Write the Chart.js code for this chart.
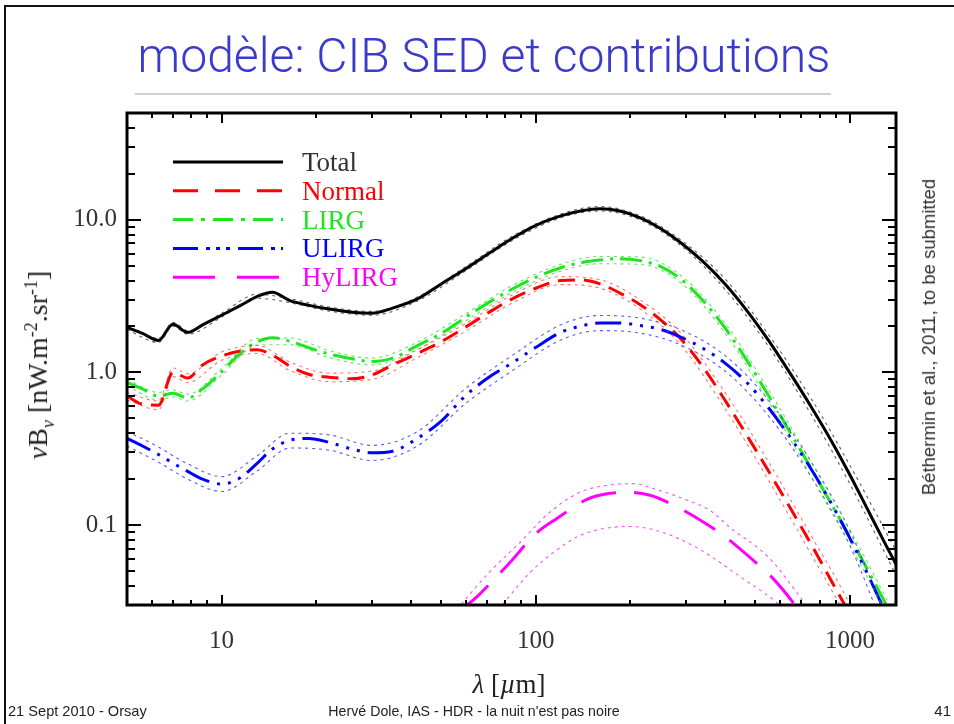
<!DOCTYPE html>
<html>
<head>
<meta charset="utf-8">
<script src="https://cdn.jsdelivr.net/npm/chart.js@4.4.1/dist/chart.umd.min.js"></script>
<style>
  html, body { margin:0; padding:0; background:#fff; }
  #wrap { position:relative; width:954px; height:724px; overflow:hidden; background:#fff; }
  #c { position:absolute; left:0; top:0; }
  .abs { position:absolute; white-space:nowrap; }
  .sans { font-family:"Liberation Sans", Arial, sans-serif; }
  .serif { font-family:"Liberation Serif", "Times New Roman", serif; }
</style>
</head>
<body>
<div id="wrap">
  <div class="abs" style="left:4px;top:5px;width:950px;height:1.5px;background:#111;"></div>
  <div class="abs" style="left:4px;top:5px;width:1.5px;height:719px;background:#111;"></div>
  <div id="title" class="abs" style="left:484px;top:56px;transform:translate(-50%,-50%);font-family:Roboto,'Liberation Sans',sans-serif;font-weight:300;font-size:48px;line-height:60px;color:#3a3acc;">modèle: CIB SED et contributions</div>
  <div class="abs" style="left:135px;top:93px;width:696px;height:2px;background:#d2d2d2;"></div>
  <canvas id="c" width="954" height="724"></canvas>
  <div class="abs serif" style="left:40px;top:365px;transform:translate(-50%,-50%) rotate(-90deg);font-size:28px;color:#222;"><i>ν</i>B<sub style="font-size:18px;"><i>ν</i></sub> [nW.m<sup style="font-size:18px;">-2</sup>.sr<sup style="font-size:18px;">-1</sup>]</div>
  <div class="abs serif" style="left:509px;top:684px;transform:translate(-50%,-50%);font-size:27px;color:#222;"><i>λ</i> [<i>µ</i>m]</div>
  <div class="abs sans" style="left:929px;top:337px;transform:translate(-50%,-50%) rotate(-90deg);font-size:18.5px;color:#333;">Béthermin et al., 2011, to be submitted</div>
  <div class="abs sans" style="left:8px;top:702px;font-size:14.6px;line-height:18px;color:#222;">21 Sept 2010 - Orsay</div>
  <div class="abs sans" style="left:474px;top:702px;transform:translateX(-50%);font-size:14.2px;line-height:18px;color:#222;">Hervé Dole, IAS - HDR - la nuit n'est pas noire</div>
  <div class="abs sans" style="right:3px;top:702px;font-size:15px;line-height:18px;color:#222;">41</div>
</div>
<script>
// ---------- DATA ----------
const lambdaGrid = [5, 5.6, 6.3, 7, 7.8, 8.7, 10, 11.5, 13, 14.5, 16.5, 19, 22, 26, 30, 35, 42, 50, 60, 72, 85, 100, 120, 140, 160, 185, 215, 250, 290, 340, 400, 470, 550, 650, 760, 880, 1000, 1150, 1300, 1400];
const totalSED  = [1.97, 1.80, 1.62, 2.07, 1.83, 2.05, 2.37, 2.75, 3.15, 3.35, 2.95, 2.75, 2.6, 2.48, 2.44, 2.64, 3.03, 3.8, 4.8, 6.15, 7.65, 9.2, 10.6, 11.45, 11.8, 11.4, 10.3, 8.73, 7.04, 5.33, 3.79, 2.53, 1.62, 0.96, 0.574, 0.344, 0.212, 0.121, 0.074, 0.0555];
const normalSED = [0.70, 0.62, 0.61, 1.0, 0.92, 1.12, 1.28, 1.38, 1.41, 1.30, 1.1, 0.97, 0.93, 0.91, 0.96, 1.12, 1.33, 1.59, 1.99, 2.52, 3.07, 3.56, 4.0, 4.03, 3.8, 3.31, 2.78, 2.2, 1.65, 1.09, 0.657, 0.386, 0.226, 0.126, 0.072, 0.0417, 0.026];
const lirgSED   = [0.86, 0.78, 0.70, 0.73, 0.68, 0.78, 1.01, 1.34, 1.59, 1.69, 1.6, 1.45, 1.32, 1.23, 1.18, 1.24, 1.5, 1.8, 2.31, 2.93, 3.56, 4.2, 4.85, 5.25, 5.45, 5.56, 5.4, 4.93, 4.07, 2.96, 1.955, 1.195, 0.706, 0.393, 0.226, 0.133, 0.083, 0.0488, 0.0304, 0.0228];
const ulirgSED  = [0.37, 0.33, 0.29, 0.255, 0.225, 0.20, 0.186, 0.205, 0.255, 0.315, 0.36, 0.37, 0.348, 0.315, 0.298, 0.305, 0.37, 0.48, 0.71, 0.95, 1.17, 1.46, 1.83, 2.02, 2.11, 2.11, 2.03, 1.91, 1.70, 1.44, 1.15, 0.856, 0.587, 0.367, 0.2245, 0.134, 0.0816, 0.0454, 0.0265];

const bandGrid   = [5, 6.3, 7, 7.8, 10, 13, 16.5, 22, 30, 42, 60, 85, 120, 160, 215, 290, 400, 550, 760, 1000, 1400];
const totalUpper = [2.03, 1.67, 2.13, 1.88, 2.44, 3.25, 3.04, 2.68, 2.51, 3.12, 4.95, 7.9, 10.9, 12.2, 10.6, 7.35, 4.1, 1.77, 0.65, 0.245, 0.068];
const totalLower = [1.91, 1.57, 2.01, 1.78, 2.3, 3.06, 2.86, 2.52, 2.37, 2.94, 4.65, 7.4, 10.3, 11.4, 9.95, 6.75, 3.5, 1.48, 0.51, 0.185, 0.047];
const normalUpper = [0.74, 0.65, 1.07, 0.98, 1.36, 1.5, 1.17, 0.99, 1.02, 1.41, 2.1, 3.26, 4.24, 4.05, 2.98, 1.8, 0.74, 0.26, 0.082, 0.03, 0.006];
const normalLower = [0.66, 0.57, 0.94, 0.86, 1.2, 1.33, 1.03, 0.87, 0.9, 1.25, 1.87, 2.88, 3.76, 3.56, 2.6, 1.5, 0.58, 0.197, 0.062, 0.022, 0.004];
const lirgUpper = [0.9, 0.74, 0.77, 0.72, 1.06, 1.67, 1.68, 1.39, 1.24, 1.58, 2.43, 3.75, 5.1, 5.75, 5.7, 4.3, 2.1, 0.77, 0.25, 0.093, 0.025];
const lirgLower = [0.82, 0.66, 0.69, 0.65, 0.96, 1.51, 1.52, 1.25, 1.12, 1.42, 2.19, 3.38, 4.6, 5.15, 5.1, 3.85, 1.81, 0.645, 0.2, 0.074, 0.02];
const ulirgUpper = [0.41, 0.325, 0.285, 0.252, 0.208, 0.285, 0.4, 0.39, 0.333, 0.41, 0.79, 1.31, 2.05, 2.36, 2.27, 1.9, 1.29, 0.66, 0.25, 0.091, 0.017];
const ulirgLower = [0.33, 0.258, 0.227, 0.2, 0.166, 0.227, 0.32, 0.31, 0.265, 0.33, 0.63, 1.04, 1.63, 1.88, 1.81, 1.51, 1.02, 0.52, 0.2, 0.073, 0.013];

const hylirgGrid = [58, 65, 75, 84, 100, 117, 146, 170, 196, 231, 267, 341, 394, 491, 556, 668, 720];
const hylirgSED  = [0.028, 0.034, 0.046, 0.059, 0.088, 0.111, 0.148, 0.161, 0.164, 0.157, 0.139, 0.105, 0.086, 0.059, 0.047, 0.030, 0.024];
const hylirgUpperGrid = [56, 71, 89, 111, 138, 168, 204, 244, 303, 358, 424, 505, 570, 630, 713, 760];
const hylirgUpper     = [0.028, 0.049, 0.077, 0.122, 0.164, 0.182, 0.187, 0.17, 0.146, 0.125, 0.093, 0.072, 0.057, 0.044, 0.031, 0.025];
const hylirgLowerGrid = [76, 95.5, 113, 135, 160, 199, 248, 326, 447, 597, 640];
const hylirgLower     = [0.028, 0.0485, 0.0656, 0.0835, 0.094, 0.098, 0.091, 0.071, 0.046, 0.030, 0.026];

const seriesNames = ['Total', 'Normal', 'LIRG', 'ULIRG', 'HyLIRG'];

const xMajorTicks = [10, 100, 1000];
const xTickLabels = ['10', '100', '1000'];
const xMinorTicks = [6, 7, 8, 9, 20, 30, 40, 50, 60, 70, 80, 90, 200, 300, 400, 500, 600, 700, 800, 900];
const yMajorTicks = [0.1, 1, 10];
const yTickLabels = ['0.1', '1.0', '10.0'];
const yMinorTicks = [0.04, 0.05, 0.06, 0.07, 0.08, 0.09, 0.2, 0.3, 0.4, 0.5, 0.6, 0.7, 0.8, 0.9, 2, 3, 4, 5, 6, 7, 8, 9, 20, 30, 40];

// ---------- BUILD ----------
function pts(xs, ys) { return ys.map((y, i) => ({ x: xs[i], y: y })); }

const COLORS = {
  Total: '#000000', Normal: '#ff0000', LIRG: '#1ee61e', ULIRG: '#0000ff', HyLIRG: '#ff00ff'
};
const BANDCOL = {
  Total: 'rgba(40,40,40,0.75)', Normal: 'rgba(255,40,40,0.65)', LIRG: 'rgba(30,220,30,0.7)',
  ULIRG: 'rgba(20,20,255,0.7)', HyLIRG: 'rgba(255,0,255,0.7)'
};
const DASH = { Total: [], Normal: [17, 9], LIRG: [22, 7, 3, 7], ULIRG: [26, 8, 3, 8, 3, 8, 3, 8], HyLIRG: [36, 18] };
const LEGDASH = { Total: [], Normal: [25, 17], LIRG: [20, 8, 4, 8], ULIRG: [25, 8, 4, 6, 4, 6, 4, 8], HyLIRG: [42, 22] };

function band(name, xs, ys) {
  return { label: name + ' band', isBand: true, data: pts(xs, ys), borderColor: BANDCOL[name],
    borderWidth: 1.1, borderDash: [3, 4], pointRadius: 0, fill: false, cubicInterpolationMode: 'monotone', clip: 0 };
}
function mainLine(name, xs, ys) {
  return { label: name, isBand: false, data: pts(xs, ys), borderColor: COLORS[name],
    borderWidth: 3, borderDash: DASH[name], borderCapStyle: 'butt', pointRadius: 0, fill: false,
    cubicInterpolationMode: 'monotone', clip: 0 };
}

const datasets = [
  band('Total', bandGrid, totalUpper), band('Total', bandGrid, totalLower),
  band('Normal', bandGrid, normalUpper), band('Normal', bandGrid, normalLower),
  band('LIRG', bandGrid, lirgUpper), band('LIRG', bandGrid, lirgLower),
  band('ULIRG', bandGrid, ulirgUpper), band('ULIRG', bandGrid, ulirgLower),
  band('HyLIRG', hylirgUpperGrid, hylirgUpper), band('HyLIRG', hylirgLowerGrid, hylirgLower),
  mainLine('HyLIRG', hylirgGrid, hylirgSED),
  mainLine('ULIRG', lambdaGrid, ulirgSED),
  mainLine('LIRG', lambdaGrid, lirgSED),
  mainLine('Normal', lambdaGrid, normalSED),
  mainLine('Total', lambdaGrid, totalSED)
];

const frameTicks = {
  id: 'frameTicks',
  afterDatasetsDraw(chart) {
    const ctx = chart.ctx, a = chart.chartArea, xs = chart.scales.x, ys = chart.scales.y;
    ctx.save();
    ctx.strokeStyle = '#000';
    ctx.setLineDash([]);
    ctx.lineWidth = 2;
    const tickX = (vals, len) => vals.forEach(v => {
      const p = Math.round(xs.getPixelForValue(v));
      ctx.beginPath(); ctx.moveTo(p, a.bottom); ctx.lineTo(p, a.bottom - len); ctx.stroke();
      ctx.beginPath(); ctx.moveTo(p, a.top); ctx.lineTo(p, a.top + len); ctx.stroke();
    });
    const tickY = (vals, len) => vals.forEach(v => {
      const p = Math.round(ys.getPixelForValue(v));
      ctx.beginPath(); ctx.moveTo(a.left, p); ctx.lineTo(a.left + len, p); ctx.stroke();
      ctx.beginPath(); ctx.moveTo(a.right, p); ctx.lineTo(a.right - len, p); ctx.stroke();
    });
    tickX(xMajorTicks, 10); tickX(xMinorTicks, 5);
    tickY(yMajorTicks, 14); tickY(yMinorTicks, 8);
    ctx.lineWidth = 3;
    ctx.strokeRect(a.left, a.top, a.right - a.left, a.bottom - a.top);
    ctx.restore();
  }
};

const insideLegend = {
  id: 'insideLegend',
  afterDatasetsDraw(chart) {
    const ctx = chart.ctx;
    const x0 = 173, x1 = 283, tx = 302, y0 = 162, dy = 28.8;
    ctx.save();
    ctx.font = '27px "Liberation Serif", "Times New Roman", serif';
    ctx.textBaseline = 'alphabetic';
    seriesNames.forEach((name, i) => {
      const ds = chart.data.datasets.find(d => !d.isBand && d.label === name);
      const y = y0 + i * dy;
      ctx.strokeStyle = ds.borderColor;
      ctx.lineWidth = 3;
      ctx.lineCap = 'butt';
      ctx.setLineDash(LEGDASH[name]);
      ctx.beginPath(); ctx.moveTo(x0, y); ctx.lineTo(x1, y); ctx.stroke();
      ctx.setLineDash([]);
      ctx.fillStyle = name === 'Total' ? '#333' : ds.borderColor;
      ctx.fillText(ds.label, tx, y + 9);
    });
    ctx.restore();
  }
};

// fit title width to the reference width
(function fitTitle() {
  const t = document.getElementById('title');
  const w = t.getBoundingClientRect().width;
  if (w > 0) t.style.fontSize = (48 * 693 / w).toFixed(2) + 'px';
})();

new Chart(document.getElementById('c'), {
  type: 'line',
  data: { datasets },
  options: {
    responsive: false,
    animation: false,
    events: [],
    layout: { padding: { left: 0, right: 58, top: 113, bottom: 0 } },
    plugins: { legend: { display: false }, tooltip: { enabled: false }, title: { display: false } },
    scales: {
      x: {
        type: 'logarithmic', min: 5, max: 1400,
        afterFit: s => { s.height = 119; },
        afterBuildTicks: s => { s.ticks = xMajorTicks.map(v => ({ value: v })); },
        grid: { display: false, drawTicks: false },
        border: { display: false },
        ticks: { autoSkip: false, maxRotation: 0, padding: 21, color: '#333',
          font: { family: '"Liberation Serif", "Times New Roman", serif', size: 25 },
          callback: (v, i) => xTickLabels[i] }
      },
      y: {
        type: 'logarithmic', min: 0.03, max: 50,
        afterFit: s => { s.width = 127; },
        afterBuildTicks: s => { s.ticks = yMajorTicks.map(v => ({ value: v })); },
        grid: { display: false, drawTicks: false },
        border: { display: false },
        ticks: { autoSkip: false, padding: 10, color: '#333',
          font: { family: '"Liberation Serif", "Times New Roman", serif', size: 25 },
          callback: (v, i) => yTickLabels[i] }
      }
    }
  },
  plugins: [frameTicks, insideLegend]
});
</script>
</body>
</html>
